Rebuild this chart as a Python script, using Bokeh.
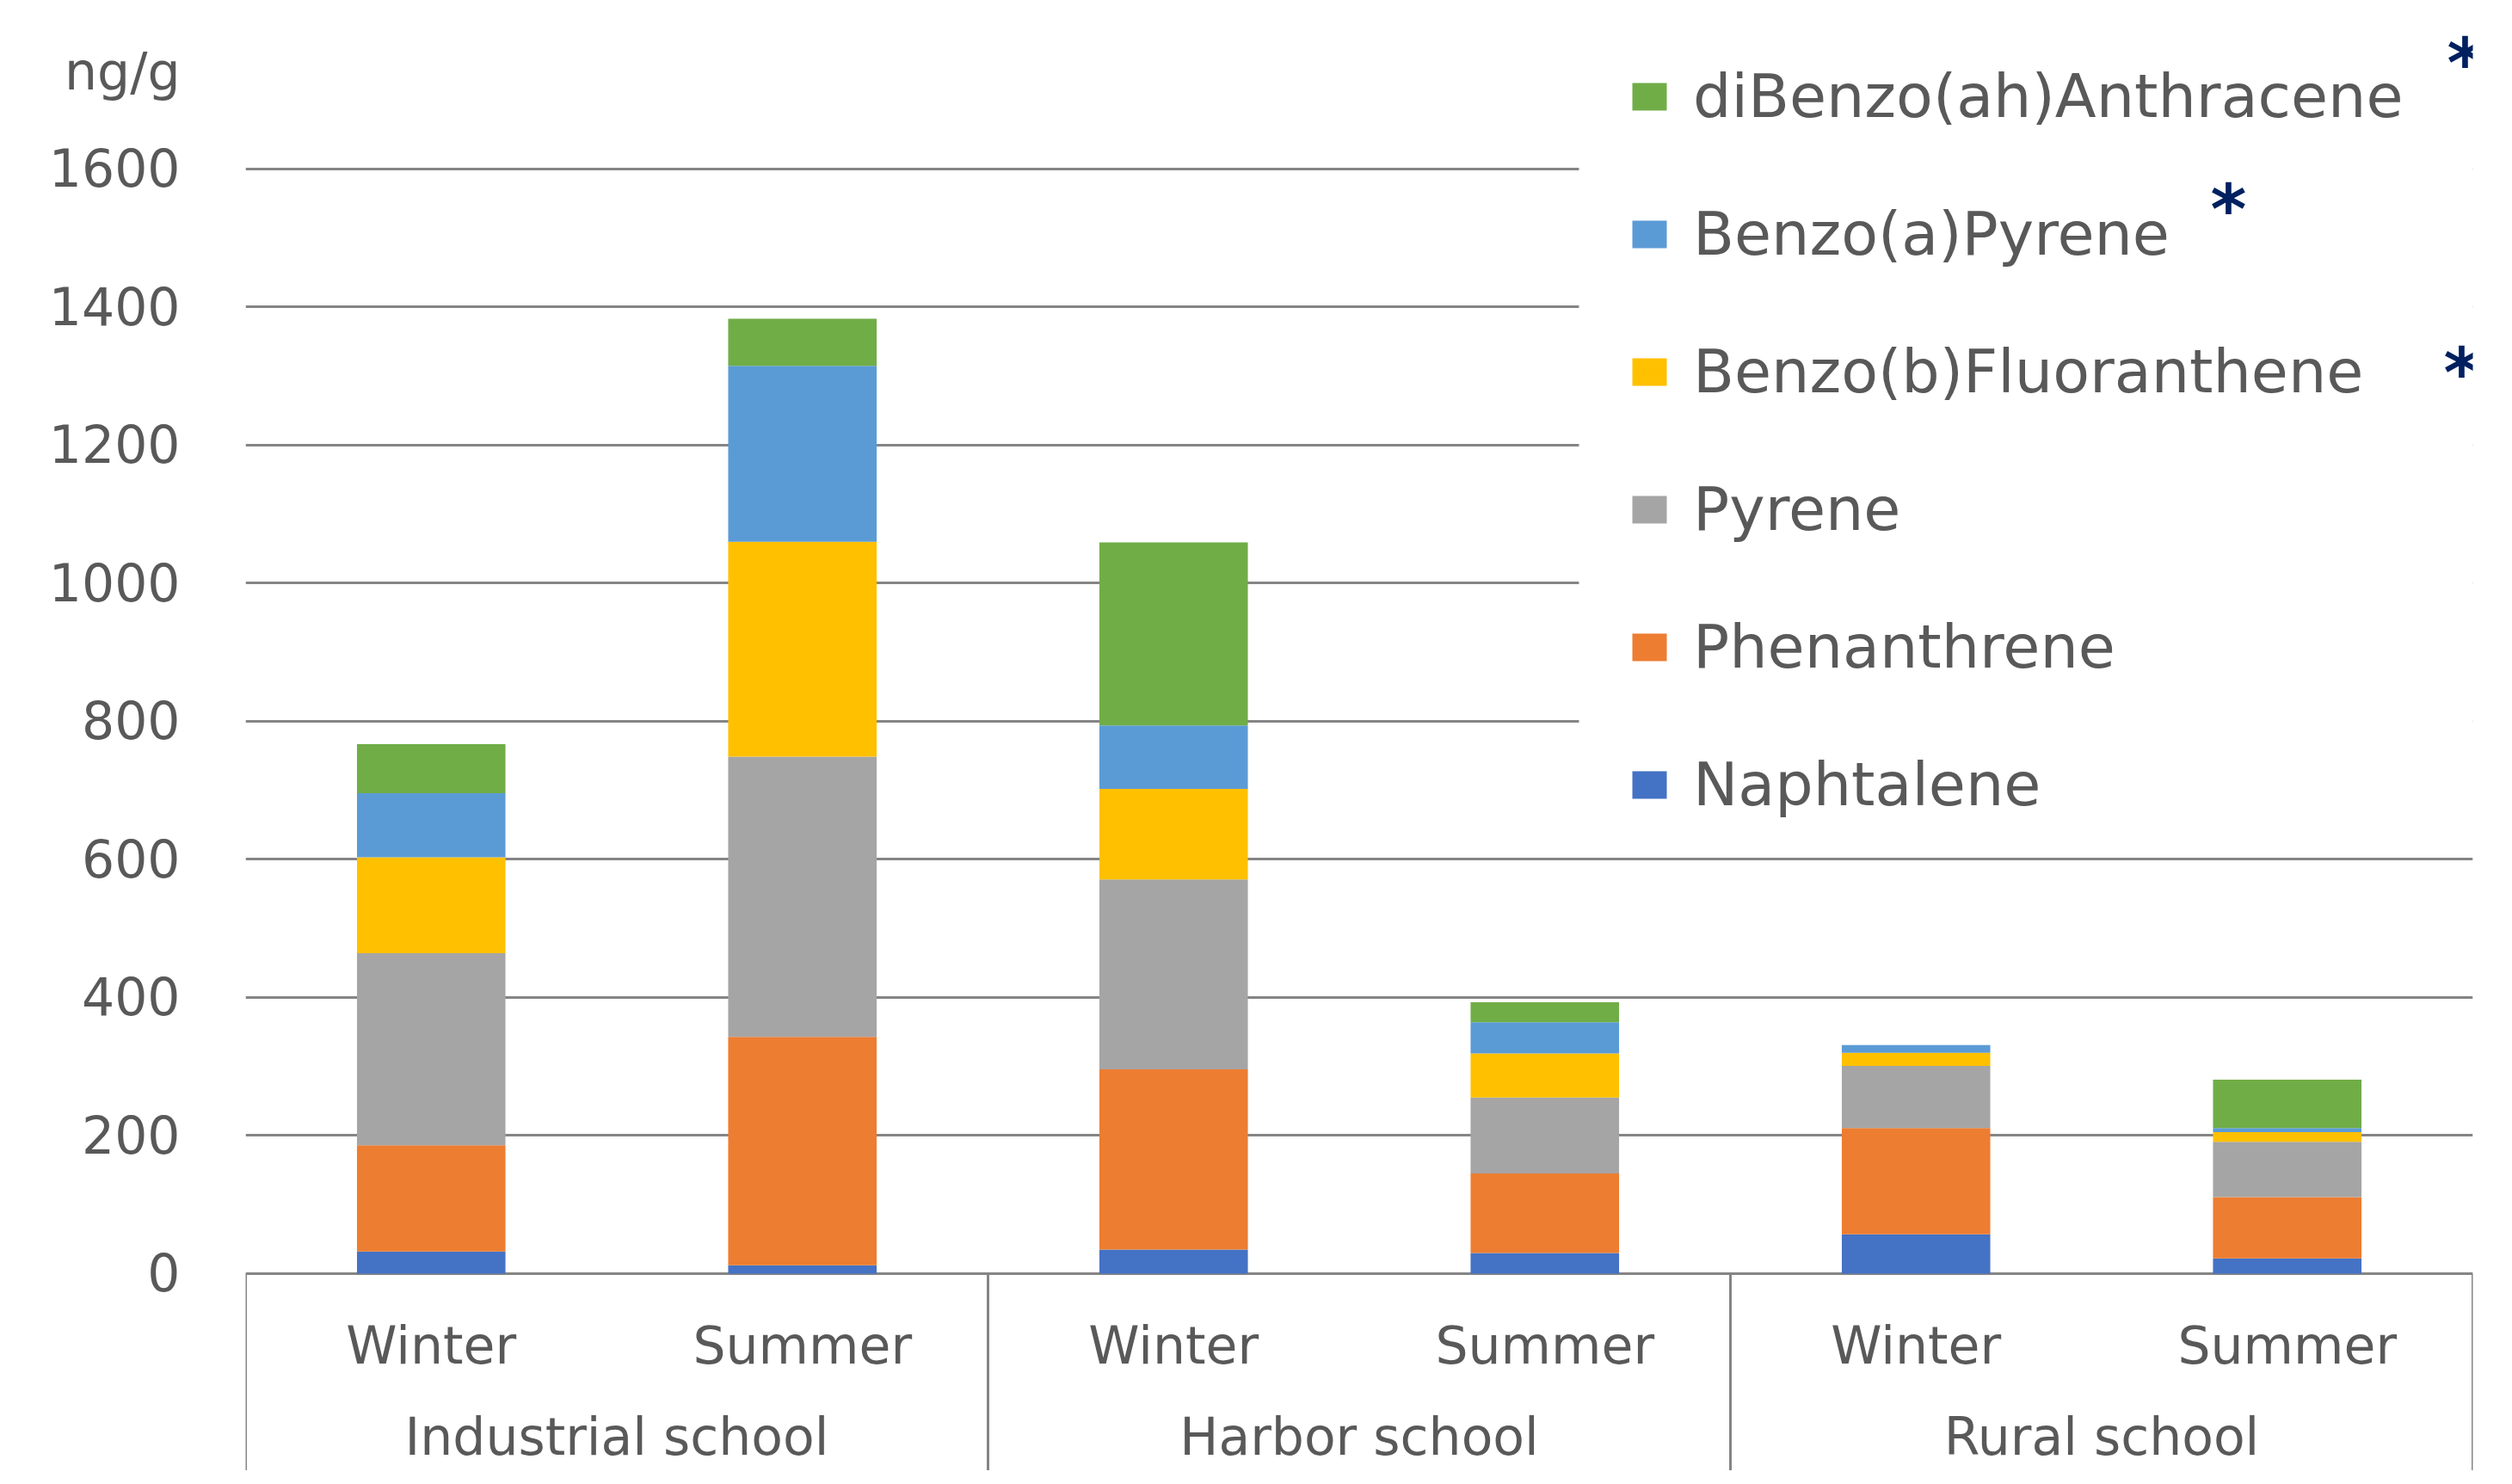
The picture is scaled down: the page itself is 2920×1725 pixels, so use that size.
from bokeh.plotting import figure
from bokeh.models import (FactorRange, Range1d, FixedTicker, ColumnDataSource,
                          Legend, LegendItem, Label, BoxAnnotation)
from bokeh.core.properties import value
from bokeh.embed import file_html
from bokeh.resources import INLINE

# ---------------- data ----------------
schools = ["Industrial school", "Harbor school", "Rural school"]
seasons = ["Winter", "Summer"]
compounds = ["Naphtalene", "Phenanthrene", "Pyrene",
             "Benzo(b)Fluoranthene", "Benzo(a)Pyrene", "diBenzo(ah)Anthracene"]
# values in ng/g, order: Ind W, Ind S, Harb W, Harb S, Rural W, Rural S
naphtalene = [32, 12, 35, 30, 57, 22]
phenanthrene = [154, 331, 261, 115, 154, 89]
pyrene = [278, 406, 275, 110, 90, 80]
benzo_b_fluoranthene = [139, 311, 131, 64, 19, 14]
benzo_a_pyrene = [93, 255, 92, 45, 11, 6]
dibenzo_ah_anthracene = [71, 68, 265, 29, 0, 70]
y_ticks = [0, 200, 400, 600, 800, 1000, 1200, 1400, 1600]
unit_label = "ng/g"

colors = ["#4472C4", "#ED7D31", "#A5A5A5", "#FFC000", "#5B9BD5", "#70AD47"]
TEXT = "#595959"
GRID = "#858585"
FONT = "DejaVu Sans"

factors = [(s, t) for s in schools for t in seasons]
series = [naphtalene, phenanthrene, pyrene, benzo_b_fluoranthene,
          benzo_a_pyrene, dibenzo_ah_anthracene]

data = {"x": factors}
for name, vals in zip(compounds, series):
    data[name] = vals
source = ColumnDataSource(data)

# ---------------- layout ----------------
x_range = FactorRange(*factors, factor_padding=0, group_padding=0, range_padding=0)
y0, y1 = -285.4, 1844.2
unit_pos = 1742          # vertical position of the unit caption on the value axis
p = figure(x_range=x_range, y_range=Range1d(y0, y1), width=2904, height=1709,
           output_backend="svg", toolbar_location=None, x_axis_location=None,
           min_border_left=285, min_border_right=30, min_border_top=0,
           min_border_bottom=0, outline_line_color=None)

# y axis (with the unit caption on top)
ax = p.yaxis[0]
ax.ticker = FixedTicker(ticks=y_ticks + [unit_pos])
ax.major_label_overrides = {unit_pos: unit_label}
ax.axis_line_color = None
ax.major_tick_line_color = None
ax.minor_tick_line_color = None
ax.major_label_standoff = 70
ax.major_label_text_font = FONT
ax.major_label_text_font_size = "60px"
ax.major_label_text_color = TEXT

p.xgrid.grid_line_color = None
p.ygrid.ticker = FixedTicker(ticks=y_ticks)
p.ygrid.grid_line_color = GRID
p.ygrid.grid_line_width = 3

renderers = p.vbar_stack(compounds, x="x", width=0.4, fill_color=colors,
                         line_color=None, source=source)

# category separators of the x axis
sep_x = [(s, "Winter", -0.5) for s in schools] + [(schools[-1], "Summer", 0.5)]
p.segment(x0=sep_x, y0=[0] * len(sep_x), x1=sep_x, y1=[y0] * len(sep_x),
          line_color=GRID, line_width=3)

# x axis labels
p.text(x=factors, y=-104, text=[t for _, t in factors], text_font=value(FONT),
       text_font_size="60px", text_color=TEXT, text_align="center",
       text_baseline="alphabetic")
p.text(x=schools, y=-236, text=schools, text_font=value(FONT),
       text_font_size="60px", text_color=TEXT, text_align="center",
       text_baseline="alphabetic")

# white panel behind the legend (hides the grid lines there)
p.add_layout(BoxAnnotation(left=3.592, right=6.3, bottom=640, top=y1 + 50,
                           fill_color="white", fill_alpha=1.0, line_color=None))

# legend
items = [LegendItem(label=c, renderers=[r])
         for c, r in reversed(list(zip(compounds, renderers)))]
legend = Legend(items=items, location=(1607, 754), padding=0,
                glyph_width=50, glyph_height=40, label_height=86, spacing=74,
                label_width=920, label_standoff=26, label_text_font=FONT,
                label_text_font_size="70px", label_text_color=TEXT,
                border_line_color=None, background_fill_alpha=0.0)
p.add_layout(legend)

# asterisks marking compounds
for (sx, sy) in [(2580, 1636), (2305, 1466), (2576, 1276)]:
    p.add_layout(Label(x=sx, y=sy, x_units="screen", y_units="screen", text="*",
                       text_font=FONT, text_font_style="bold",
                       text_font_size="80px", text_color="#002060",
                       text_align="center", text_baseline="middle"))

open("out.html", "w").write(file_html(p, INLINE))
